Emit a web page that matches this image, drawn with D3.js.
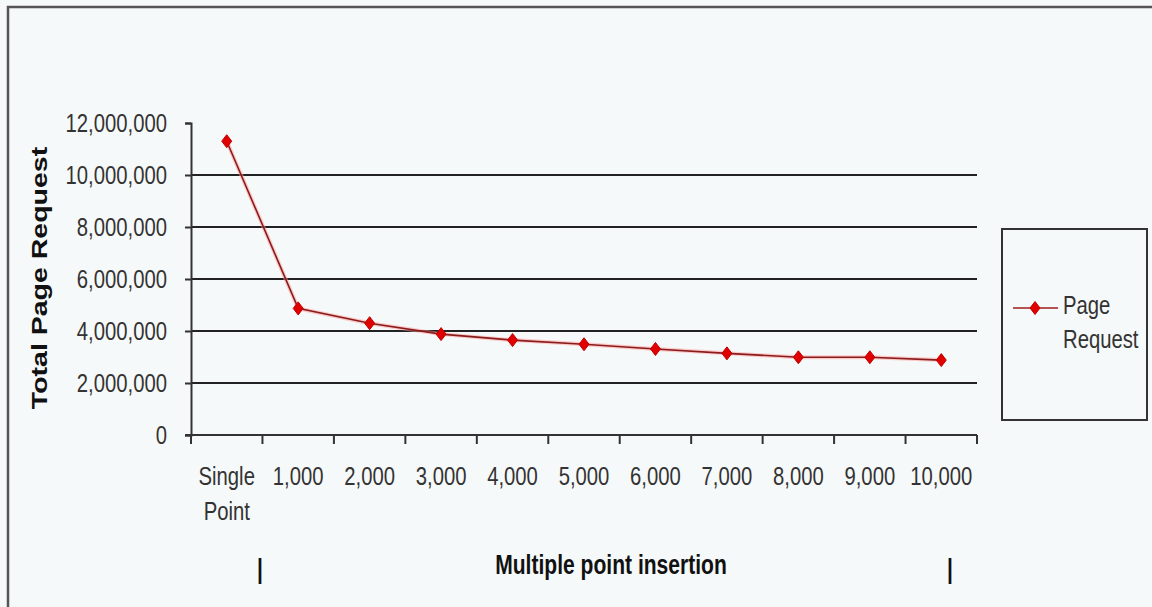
<!DOCTYPE html>
<html>
<head>
<meta charset="utf-8">
<script src="https://cdn.jsdelivr.net/npm/d3@7"></script>
<style>
  html, body { margin: 0; padding: 0; background: #f6f9f9; }
  svg { display: block; font-family: "Liberation Sans", Arial, sans-serif; }
</style>
</head>
<body>
<svg id="chart" width="1152" height="607"></svg>
<script>
// chart data
const categories = ["Single Point", "1,000", "2,000", "3,000", "4,000", "5,000",
                    "6,000", "7,000", "8,000", "9,000", "10,000"];
const pageRequests = [11300000, 4870000, 4300000, 3880000, 3650000, 3490000,
                      3310000, 3140000, 2990000, 2990000, 2880000];
const yTicks = [0, 2000000, 4000000, 6000000, 8000000, 10000000, 12000000];
const seriesName = ["Page", "Request"];

const svg = d3.select("#chart");
const SX = 0.78; // the source text is horizontally squeezed

// frame
svg.append("rect").attr("x", 0).attr("y", 0).attr("width", 1152).attr("height", 607)
  .attr("fill", "#f6f9f9");
svg.append("path").attr("d", "M8,607 V7 H1152")
  .attr("fill", "none").attr("stroke", "#555").attr("stroke-width", 2.5);

// scales
const x = d3.scaleBand().domain(categories).range([191, 977]);
const y = d3.scaleLinear().domain([0, 12000000]).range([435, 123]);

// gridlines (not at 0 or top)
svg.append("g").selectAll("line")
  .data(yTicks.filter(d => d > 0 && d < 12000000))
  .enter().append("line")
  .attr("x1", 191).attr("x2", 977)
  .attr("y1", d => y(d)).attr("y2", d => y(d))
  .attr("stroke", "#222").attr("stroke-width", 2);

// y axis
const yAxis = svg.append("g").attr("transform", "translate(191,0)")
  .call(d3.axisLeft(y).tickValues(yTicks).tickSize(6).tickFormat(""));
yAxis.select(".domain").attr("stroke", "#333").attr("stroke-width", 2);
yAxis.selectAll(".tick line").attr("stroke", "#333").attr("stroke-width", 2);

svg.append("g").selectAll("text")
  .data(yTicks)
  .enter().append("text")
  .attr("transform", d => "translate(167," + (y(d) + 9) + ") scale(" + SX + ",1)")
  .attr("text-anchor", "end")
  .attr("font-size", 26)
  .attr("fill", "#333")
  .text(d3.format(","));

// x axis with ticks between categories
const xEdges = categories.map(c => x(c)).concat([x.range()[1]]);
svg.append("line")
  .attr("x1", 185).attr("x2", 977).attr("y1", 435).attr("y2", 435)
  .attr("stroke", "#333").attr("stroke-width", 2);
svg.append("g").selectAll("line")
  .data(xEdges)
  .enter().append("line")
  .attr("x1", d => d).attr("x2", d => d)
  .attr("y1", 435).attr("y2", 444)
  .attr("stroke", "#333").attr("stroke-width", 2);

const xLabels = svg.append("g").selectAll("text")
  .data(categories)
  .enter().append("text")
  .attr("transform", d => "translate(" + (x(d) + x.bandwidth() / 2) + ",485) scale(" + SX + ",1)")
  .attr("text-anchor", "middle")
  .attr("font-size", 26)
  .attr("fill", "#333");
xLabels.each(function(d) {
  const parts = d.split(" ");
  d3.select(this).selectAll("tspan")
    .data(parts)
    .enter().append("tspan")
    .attr("x", 0)
    .attr("dy", (p, i) => i === 0 ? 0 : 35)
    .text(p => p);
});

// axis titles
svg.append("text")
  .attr("transform", "translate(47,278) scale(" + SX + ",1) rotate(-90)")
  .attr("text-anchor", "middle")
  .attr("font-size", 28.5)
  .attr("font-weight", "bold")
  .attr("fill", "#111")
  .text("Total Page Request");

svg.append("text")
  .attr("transform", "translate(611,574) scale(" + SX + ",1)")
  .attr("text-anchor", "middle")
  .attr("font-size", 27)
  .attr("font-weight", "bold")
  .attr("fill", "#111")
  .text("Multiple point insertion");

svg.append("g").selectAll("text")
  .data([260, 950])
  .enter().append("text")
  .attr("transform", d => "translate(" + d + ",578) scale(" + SX + ",1)")
  .attr("text-anchor", "middle")
  .attr("font-size", 27)
  .attr("font-weight", "bold")
  .attr("fill", "#111")
  .text("|");

// series line
const line = d3.line()
  .x((d, i) => x(categories[i]) + x.bandwidth() / 2)
  .y(d => y(d));

svg.append("path")
  .datum(pageRequests)
  .attr("fill", "none")
  .attr("stroke", "#ff9a9a")
  .attr("stroke-opacity", 0.5)
  .attr("stroke-width", 4)
  .attr("d", line);
svg.append("path")
  .datum(pageRequests)
  .attr("fill", "none")
  .attr("stroke", "#8a1c1c")
  .attr("stroke-width", 1.6)
  .attr("d", line);

const diamond = "M0,-6.5 L5,0 L0,6.5 L-5,0 Z";
svg.append("g").selectAll("path")
  .data(pageRequests)
  .enter().append("path")
  .attr("transform", (d, i) => "translate(" + (x(categories[i]) + x.bandwidth() / 2) + "," + y(d) + ")")
  .attr("d", diamond)
  .attr("fill", "#e00000")
  .attr("stroke", "#c00000")
  .attr("stroke-width", 1);

// legend
const legend = svg.append("g");
legend.append("rect")
  .attr("x", 1002).attr("y", 229).attr("width", 145).attr("height", 191)
  .attr("fill", "none").attr("stroke", "#333").attr("stroke-width", 2);
legend.append("line")
  .attr("x1", 1013).attr("x2", 1058).attr("y1", 308).attr("y2", 308)
  .attr("stroke", "#a01c1c").attr("stroke-width", 1.6);
legend.append("path")
  .attr("transform", "translate(1035,308)")
  .attr("d", diamond)
  .attr("fill", "#e00000")
  .attr("stroke", "#c00000");
legend.append("g").selectAll("text")
  .data(seriesName)
  .enter().append("text")
  .attr("transform", (d, i) => "translate(1063," + (314 + i * 34) + ") scale(" + SX + ",1)")
  .attr("font-size", 26)
  .attr("fill", "#333")
  .text(d => d);
</script>
</body>
</html>
